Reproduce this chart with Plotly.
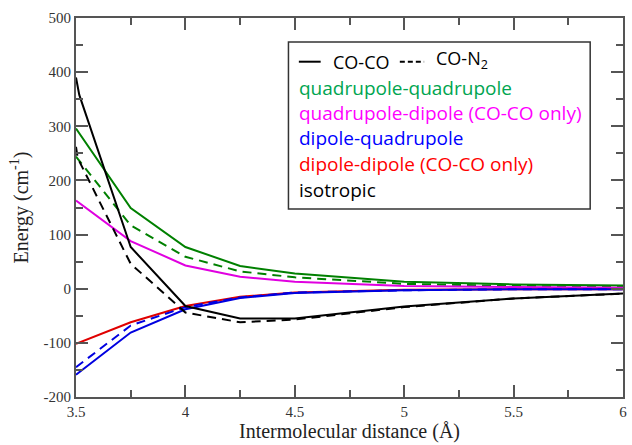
import plotly.graph_objects as go

# ---- data ----
x_iso_coco = [3.5, 3.515, 3.75, 4.0, 4.25, 4.5, 5.0, 5.5, 6.0]
iso_coco = [390, 358, 77, -32, -55, -55, -33, -18, -9]
x_iso_con2 = [3.5, 3.508, 3.75, 4.0, 4.25, 4.5, 5.0, 5.5, 6.0]
iso_con2 = [262, 241, 46, -44, -62, -57, -34, -18, -9]

x = [3.5, 3.75, 4.0, 4.25, 4.5, 5.0, 5.5, 6.0]
qq_coco = [296, 149, 77, 42, 28, 13, 8, 6]
qq_con2 = [244, 117, 59, 32, 21, 9, 5, 4]
qd_coco = [163, 88, 43, 22, 13, 5, 3, 2]
dd_coco = [-102, -62, -32, -15, -7, -2, -1, -1]
dq_coco = [-159, -81, -38, -17, -8, -3, -1, -1]
dq_con2 = [-145, -68, -34, -16, -7, -3, -1, -1]

x_ticks = [3.5, 4, 4.5, 5, 5.5, 6]
y_ticks = [-200, -100, 0, 100, 200, 300, 400, 500]

legend_lines = [
    ("quadrupole-quadrupole", "#00A550"),
    ("quadrupole-dipole (CO-CO only)", "#FF00FF"),
    ("dipole-quadrupole", "#0000FF"),
    ("dipole-dipole (CO-CO only)", "#FF0000"),
    ("isotropic", "#000000"),
]

DASH = "9px,6px"
fig = go.Figure()

def add(xs, ys, color, dash="solid", width=2):
    fig.add_trace(go.Scatter(x=xs, y=ys, mode="lines",
                             line=dict(color=color, width=width, dash=dash),
                             showlegend=False, hoverinfo="skip"))

add(x, qq_coco, "#008000")
add(x, qq_con2, "#008000", DASH)
add(x, qd_coco, "#E000E0")
add(x, dd_coco, "#E00000")
add(x, dq_coco, "#0000E0")
add(x, dq_con2, "#0000E0", DASH)
add(x_iso_coco, iso_coco, "#000000")
add(x_iso_con2, iso_con2, "#000000", DASH)

# legend box
fig.add_shape(type="rect", xref="paper", yref="paper",
              x0=0.3884, x1=0.940, y0=0.496, y1=0.9367,
              line=dict(color="#333333", width=1.5), fillcolor="white", layer="above")
fig.add_shape(type="line", xref="paper", yref="paper",
              x0=0.4074, x1=0.4473, y0=0.8847, y1=0.8847,
              line=dict(color="black", width=2), layer="above")
fig.add_shape(type="line", xref="paper", yref="paper",
              x0=0.5920, x1=0.6364, y0=0.8847, y1=0.8847,
              line=dict(color="black", width=2, dash="5px,3px"), layer="above")

lfont = "Open Sans"
fs = 19
fig.add_annotation(x=0.4664, y=0.8847, xref="paper", yref="paper", text="CO-CO",
                   showarrow=False, xanchor="left", yanchor="middle",
                   font=dict(family=lfont, size=18, color="black"))
fig.add_annotation(x=0.6546, y=0.8900, xref="paper", yref="paper", text="CO-N<sub>2</sub>",
                   showarrow=False, xanchor="left", yanchor="middle",
                   font=dict(family=lfont, size=18, color="black"))
ys_leg = [0.8160, 0.7500, 0.6834, 0.6148, 0.5462]
for (txt, col), yy in zip(legend_lines, ys_leg):
    fig.add_annotation(x=0.4047, y=yy, xref="paper", yref="paper", text=txt,
                       showarrow=False, xanchor="left", yanchor="middle",
                       font=dict(family=lfont, size=fs, color=col))

axis_common = dict(
    showline=True, linecolor="#555555", linewidth=2, mirror="ticks",
    ticks="inside", tickcolor="#555555", tickwidth=1.5, ticklen=12,
    showgrid=False, zeroline=False,
    tickfont=dict(family="Liberation Serif", size=15, color="#333333"),
)

fig.update_xaxes(range=[3.5, 6.0], tickvals=x_ticks, ticktext=[str(v) for v in x_ticks],
                 minor=dict(dtick=0.25, tick0=3.5, ticks="inside", ticklen=7,
                            tickcolor="#555555", tickwidth=1.5, showgrid=False),
                 title=dict(text="Intermolecular distance (Å)", standoff=4,
                            font=dict(family="Liberation Serif", size=20, color="#222222")),
                 **axis_common)
fig.update_yaxes(range=[-200, 500], tickvals=y_ticks, ticktext=[str(v) for v in y_ticks],
                 minor=dict(dtick=50, tick0=0, ticks="inside", ticklen=7,
                            tickcolor="#555555", tickwidth=1.5, showgrid=False),
                 title=dict(text="Energy (cm<sup>-1</sup>)", standoff=10,
                            font=dict(family="Liberation Serif", size=20, color="#222222")),
                 **axis_common)

fig.update_layout(width=632, height=445, margin=dict(l=76, r=5, t=18, b=48),
                  plot_bgcolor="white", paper_bgcolor="white")

fig.write_html("out.html")
